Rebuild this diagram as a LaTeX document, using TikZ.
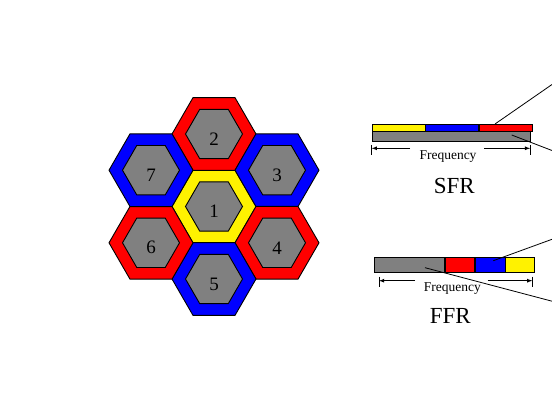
\documentclass[tikz,border=0pt]{standalone}
\usepackage{fontspec}
\setmainfont{Liberation Serif}
\usetikzlibrary{shapes.geometric, positioning}
\definecolor{cellgray}{RGB}{128,128,128}
\tikzset{
  cellring/.style={regular polygon, regular polygon sides=6, minimum size=84pt,
    inner sep=0pt, draw=black, line width=0.9pt},
  cellcore/.style={regular polygon, regular polygon sides=6, minimum size=57pt,
    inner sep=0pt, draw=black, fill=cellgray, line width=0.9pt},
  cellnum/.style={font=\fontsize{19}{19}\selectfont, inner sep=0pt},
  band/.style={draw=black, line width=0.7pt, inner sep=0pt, anchor=north west},
  leader/.style={black, line width=0.8pt},
  freqtext/.style={font=\fontsize{13.5}{14}\selectfont, anchor=base, inner sep=0pt},
  schemetext/.style={font=\fontsize{23}{24}\selectfont, anchor=base, inner sep=0pt},
}

\begin{document}
\begin{tikzpicture}[x=1pt, y=-1pt, >=latex]
  \useasboundingbox (0,0) rectangle (552,403);

  % 七个蜂窝小区
  % \n---小区编号, (\cx,\cy)---中心, \clr---外环颜色
  \foreach \n/\cx/\cy/\clr in
  {
    1/214/206.5/yellow,
    2/214/134/red,
    3/277/170.2/blue,
    4/277/242.8/red,
    5/214/279/blue,
    6/151/242.8/red,
    7/151/170.2/blue}
  {
    \node[cellring, fill=\clr] (ring\n) at (\cx,\cy) {};
    \node[cellcore] (core\n) at (ring\n) {};
    \node[cellnum, yshift=-5pt] (num\n) at (core\n) {\n};
  }

  % SFR 频带
  \node[band, fill=yellow, minimum width=52.8pt, minimum height=6.7pt] (sfrY) at (371.7,124) {};
  \node[band, fill=blue, minimum width=52.8pt, minimum height=6.7pt, right=0pt of sfrY] (sfrB) {};
  \node[band, fill=red, minimum width=52.8pt, minimum height=6.7pt, right=0pt of sfrB] (sfrR) {};
  \node[band, fill=cellgray, minimum width=158.4pt, minimum height=10pt] (sfrG) at (sfrY.south west) {};

  % SFR 引出线
  \coordinate (sfrA) at (495,124);
  \coordinate (sfrA2) at (552,84.5);
  \coordinate (sfrC) at (511.7,135);
  \coordinate (sfrC2) at (552,150.5);
  \draw[leader] (sfrA) -- (sfrA2);
  \draw[leader] (sfrC) -- (sfrC2);

  % SFR 频率坐标
  \coordinate (sfrL) at (371.7,148.3);
  \coordinate (sfrR2) at (530.1,148.3);
  \draw[leader] (sfrL) ++(0,-3.3) -- ++(0,10);
  \draw[leader] (sfrR2) ++(0,-3.3) -- ++(0,10);
  \draw[leader, ->] (410,148.3) -- (sfrL);
  \draw[leader, ->] (484,148.3) -- (sfrR2);
  \node[freqtext] (sfrF) at (448,159.3) {Frequency};
  \node[schemetext] (sfrT) at (454.3,193.3) {SFR};

  % FFR 频带
  \node[band, fill=cellgray, minimum width=70pt, minimum height=15.6pt] (ffrG) at (374.3,256.7) {};
  \node[band, fill=red, minimum width=29pt, minimum height=15.6pt, right=0pt of ffrG] (ffrR) {};
  \node[band, fill=blue, minimum width=30pt, minimum height=15.6pt, right=0pt of ffrR] (ffrB) {};
  \node[band, fill=yellow, minimum width=29pt, minimum height=15.6pt, right=0pt of ffrB] (ffrY) {};

  % FFR 引出线
  \coordinate (ffrA) at (493.3,260.7);
  \coordinate (ffrA2) at (552,239.3);
  \coordinate (ffrC) at (425,267.7);
  \coordinate (ffrC2) at (552,301.2);
  \draw[leader] (ffrA) -- (ffrA2);
  \draw[leader] (ffrC) -- (ffrC2);

  % FFR 频率坐标
  \coordinate (ffrL) at (379,280.7);
  \coordinate (ffrR2) at (532.3,280.7);
  \draw[leader] (ffrL) ++(0,-4) -- ++(0,10);
  \draw[leader] (ffrR2) ++(0,-4) -- ++(0,10);
  \draw[leader, ->] (415,280.7) -- (ffrL);
  \draw[leader, ->] (487.7,280.7) -- (ffrR2);
  \node[freqtext] (ffrF) at (452.3,291.7) {Frequency};
  \node[schemetext] (ffrT) at (450.3,323.3) {FFR};
\end{tikzpicture}
\end{document}
